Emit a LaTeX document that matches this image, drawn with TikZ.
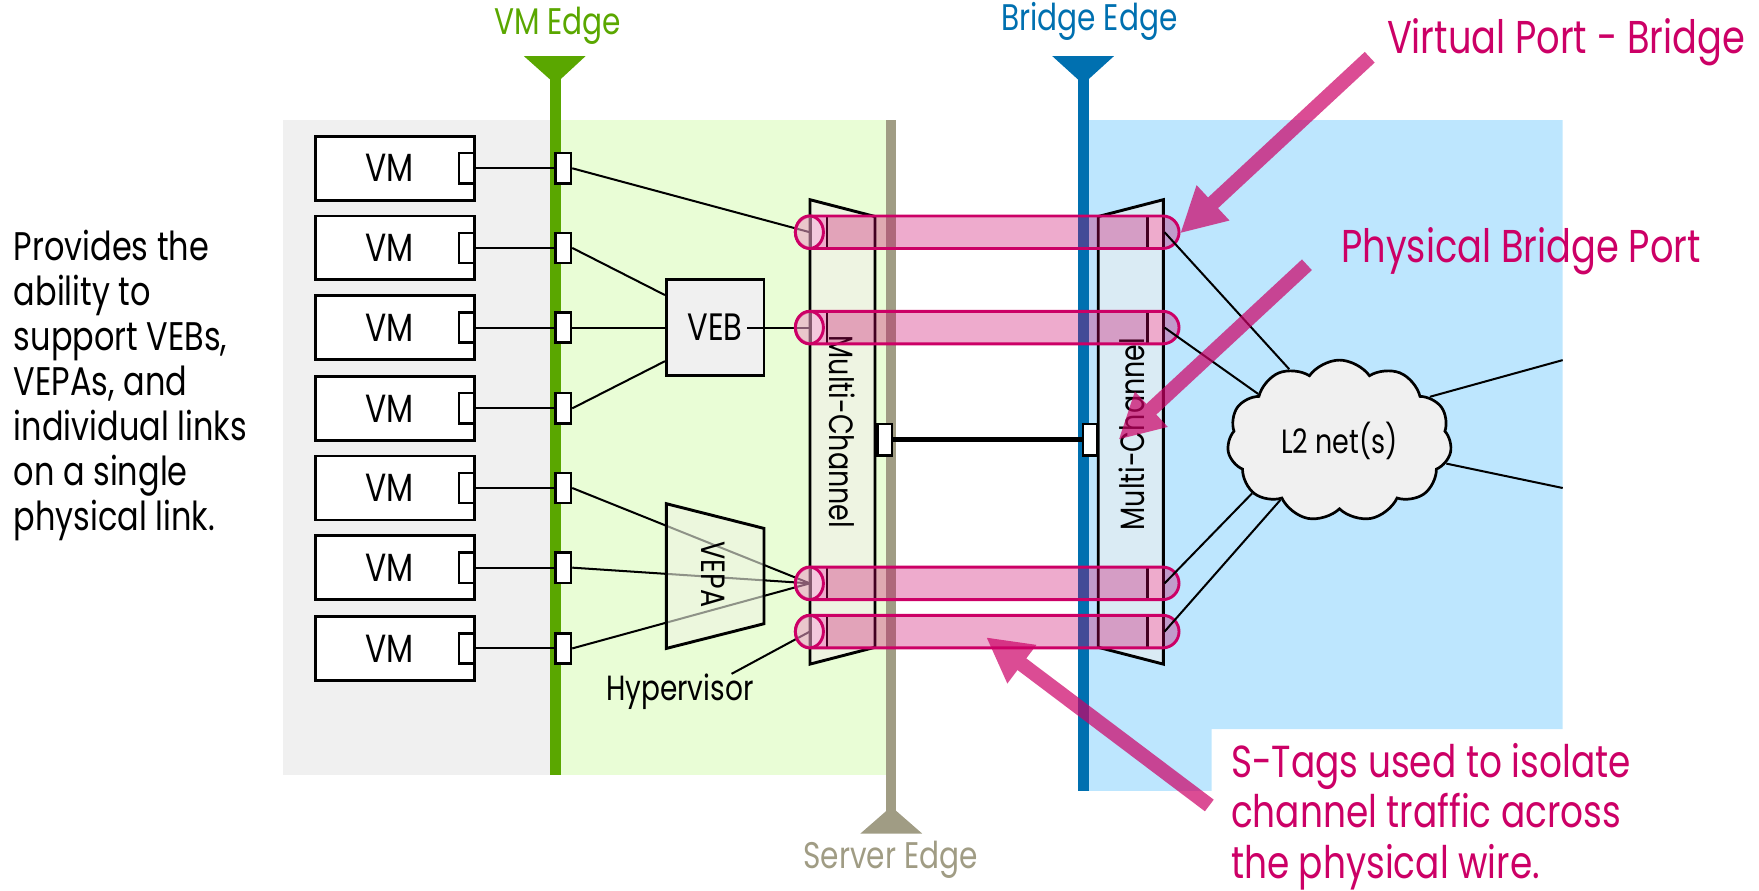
\documentclass[tikz,border=0pt]{standalone}
\usepackage{fontspec}
\setmainfont{Poppins}[FakeStretch=0.8]
\usetikzlibrary{positioning,arrows.meta,shapes.symbols}
\definecolor{bggrey}{HTML}{F0F0F0}
\definecolor{bggreen}{HTML}{E9FDD6}
\definecolor{bgblue}{HTML}{BDE6FE}
\definecolor{vmgreen}{HTML}{5AA700}
\definecolor{srvtan}{HTML}{A09C84}
\definecolor{brblue}{HTML}{0070B0}
\definecolor{mcgreen}{HTML}{EEF4E2}
\definecolor{mcblue}{HTML}{DAEBF4}
\definecolor{tubepink}{HTML}{CC0066}

\begin{document}
\begin{tikzpicture}[x=0.5pt,y=-0.5pt,
  vmbox/.style={draw,line width=1.3pt,fill=white,minimum width=71pt,minimum height=28.5pt,inner sep=0pt},
  portbox/.style={draw,line width=1.1pt,fill=white,minimum width=7pt,minimum height=13.5pt,inner sep=0pt},
  wire/.style={line width=0.9pt},
  txt/.style={inner sep=0pt,font=\fontsize{#1}{#1}\selectfont},
  tube/.style={draw=tubepink,line width=1.3pt,fill=tubepink,fill opacity=0.33,rounded corners=7.25pt},
  callout/.style={draw=tubepink,line width=6.5pt,-{Triangle[length=20pt,width=20pt]}},
  pinklabel/.style={text=tubepink,inner sep=0pt,font=\fontsize{20.5}{23}\selectfont}]
\useasboundingbox (0,0) rectangle (1568,794);

% background areas
\fill[bggrey] (252,107) rectangle (495,691);
\fill[bggreen] (495,107) rectangle (790,691);
\fill[bgblue] (970,107) -- (1393,107) -- (1393,650) -- (1080,650) -- (1080,705) -- (970,705) -- cycle;

% edges
\draw[vmgreen,line width=5pt] (495,56) -- (495,691);
\fill[vmgreen] (467,50) -- (522,50) -- (495,75) -- cycle;
\node[txt=16.5,text=vmgreen] (vmedge) at (497,23) {VM Edge};
\draw[srvtan,line width=4.5pt] (794.5,107) -- (794.5,725);
\fill[srvtan] (767,743) -- (822,743) -- (794.5,719) -- cycle;
\node[txt=16.5,text=srvtan] (srvedge) at (794,766) {Server Edge};
\draw[brblue,line width=5pt] (965.5,56) -- (965.5,705);
\fill[brblue] (938,50) -- (993,50) -- (965.5,75) -- cycle;
\node[txt=16.5,text=brblue] (bredge) at (971,19) {Bridge Edge};

% multi-channel blocks
\filldraw[fill=mcgreen,line width=1.3pt] (722,178) -- (780,193) -- (780,577) -- (722,592) -- cycle;
\node[txt=15,rotate=-90] (mcleft) at (751,385) {Multi-Channel};
\filldraw[fill=mcblue,line width=1.3pt] (979,193) -- (1037,178) -- (1037,592) -- (979,577) -- cycle;
\node[txt=15,rotate=90] (mcright) at (1009,387) {Multi-Channel};

% virtual machines
\foreach \i/\y in {1/150,2/221,3/292,4/364,5/435,6/506,7/578} {
  \node[vmbox] (vm\i) at (352,\y) {};
  \node[txt=17.5] (vmt\i) at (347,\y) {VM};
  \node[portbox] (vp\i) at (416,\y) {};
  \node[portbox] (ep\i) at (502,\y) {};
  \draw[wire] (vp\i.east) -- (ep\i.west);
}

% channel ports
\foreach \n/\y in {1/207,2/292,3/520,4/563} {
  \node[portbox,minimum height=14.5pt] (lt\n) at (730,\y) {};
  \node[portbox,minimum height=14.5pt] (rt\n) at (1030,\y) {};
}
\node[portbox,minimum width=6.5pt,minimum height=14pt] (sp) at (788.5,392) {};
\node[portbox,minimum width=6.5pt,minimum height=14pt] (bp) at (972,392) {};
\draw[line width=2.2pt] (sp.east) -- (bp.west);

% VEB
\node[draw,fill=bggrey,line width=1.3pt,minimum width=43.5pt,minimum height=43pt,font=\fontsize{17}{17}\selectfont] (veb) at (637.5,292) {VEB};
\draw[wire] (ep1.east) -- (lt1.west);
\draw[wire] (ep2.east) -- ([yshift=14.5pt]veb.west);
\draw[wire] (ep3.east) -- (veb.west);
\draw[wire] (ep4.east) -- ([yshift=-15pt]veb.west);
\draw[wire] ([xshift=-8pt]veb.east) -- (lt2.west);

% VEPA
\draw[wire] (ep5.east) -- (lt3.west);
\draw[wire] (ep6.east) -- (lt3.west);
\draw[wire] (ep7.east) -- (lt3.west);
\fill[mcgreen,fill opacity=0.6] (594,449) -- (681,471) -- (681,556) -- (594,578) -- cycle;
\draw[line width=1.3pt] (594,449) -- (681,471) -- (681,556) -- (594,578) -- cycle;
\node[txt=15,rotate=-90] (vepa) at (636,512) {VEPA};

\node[txt=15.6] (hyp) at (606,617) {Hypervisor};
\draw[wire] ([xshift=-10pt]hyp.north east) -- (lt4.west);

% S-channels
\foreach \y in {207,292,520,563} {
  \draw[tube] (709,\y-14.5) rectangle (1051,\y+14.5);
  \draw[tubepink,line width=1.3pt,fill=white,fill opacity=0.35] (721.5,\y) ellipse [x radius=12.5,y radius=14.5];
}

% L2 network
\node[cloud,cloud puffs=11,cloud puff arc=110,aspect=1.4,draw,fill=bggrey,line width=1.2pt,
  minimum width=100pt,minimum height=72pt,font=\fontsize{15}{15}\selectfont] (l2) at (1194,393) {L2 net(s)};
\coordinate (nr1) at (1393,321);
\coordinate (nr2) at (1393,435);
\draw[wire] (rt1.east) -- (l2.125);
\draw[wire] (rt2.east) -- (l2.150);
\draw[wire] (rt3.east) -- (l2.211);
\draw[wire] (rt4.east) -- (l2.225);
\draw[wire] (l2.26) -- (nr1);
\draw[wire] (l2.-12) -- (nr2);

% callouts
\coordinate (vpbtail) at (1221,51);
\coordinate (vpbtip) at (1052,208);
\coordinate (pbptail) at (1165,236);
\coordinate (pbptip) at (997,392);
\coordinate (stagtail) at (1078,718);
\coordinate (stagtip) at (879,568);
\begin{scope}[transparency group,opacity=0.7]
\draw[callout] (vpbtail) -- (vpbtip);
\end{scope}
\begin{scope}[transparency group,opacity=0.7]
\draw[callout] (pbptail) -- (pbptip);
\end{scope}
\begin{scope}[transparency group,opacity=0.7]
\draw[callout] (stagtail) -- (stagtip);
\end{scope}
\node[pinklabel] (vpb) at (1396,38) {Virtual Port - Bridge};
\node[pinklabel] (pbp) at (1356,224) {Physical Bridge Port};
\node[pinklabel,font=\fontsize{20}{22.6}\selectfont,anchor=north west,align=left] (stag) at (1097,662) {S-Tags used to isolate\\channel traffic across\\the physical wire.};

\node[anchor=north west,align=left,inner sep=0pt,font=\fontsize{17.8}{20}\selectfont] (note) at (12,205)
  {Provides the\\ability to\\support VEBs,\\VEPAs, and\\individual links\\on a single\\physical link.};
\end{tikzpicture}
\end{document}
